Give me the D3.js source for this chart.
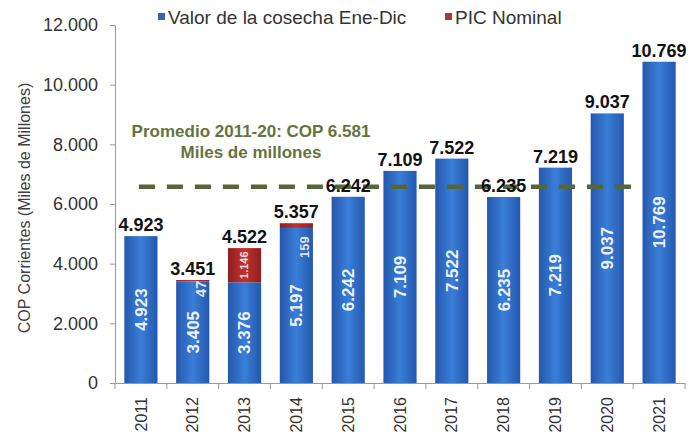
<!DOCTYPE html>
<html><head><meta charset="utf-8">
<script src="https://cdn.jsdelivr.net/npm/d3@7"></script>
<style>body{margin:0;background:#fff;} svg{display:block;font-family:Arial,"Liberation Sans",sans-serif;}</style>
</head><body><svg id="c" width="689" height="438"></svg>
<script>
const years = ["2011","2012","2013","2014","2015","2016","2017","2018","2019","2020","2021"];
const cosecha = [4923,3405,3376,5197,6242,7109,7522,6235,7219,9037,10769];
const pic = [0,47,1146,159,0,0,0,0,0,0,0];
const totalLabels = ["4.923","3.451","4.522","5.357","6.242","7.109","7.522","6.235","7.219","9.037","10.769"];
const cosechaLabels = ["4.923","3.405","3.376","5.197","6.242","7.109","7.522","6.235","7.219","9.037","10.769"];
const picLabels = ["","47","1.146","159","","","","","","",""];
const yTicks = [0,2000,4000,6000,8000,10000,12000];
const yTickLabels = ["0","2.000","4.000","6.000","8.000","10.000","12.000"];
const promedio = 6581;
const seriesNames = ["Valor de la cosecha Ene-Dic","PIC Nominal"];

const svg = d3.select("#c");
const x = d3.scaleBand().domain(years).range([115,685]).paddingInner(0.36).paddingOuter(0.18);
const y = d3.scaleLinear().domain([0,12000]).range([383,25]);
const bw = x.bandwidth();

const defs = svg.append("defs");
function grad(id, edge, mid){
  const g = defs.append("linearGradient").attr("id",id).attr("x1","0").attr("x2","1").attr("y1","0").attr("y2","0");
  g.append("stop").attr("offset","0").attr("stop-color",edge);
  g.append("stop").attr("offset","0.5").attr("stop-color",mid);
  g.append("stop").attr("offset","1").attr("stop-color",edge);
}
grad("gb","#2458ad","#3a7ed8");
grad("gr","#8e1f20","#c2322f");
const f = defs.append("filter").attr("id","sh").attr("x","-10%").attr("y","-50%").attr("width","120%").attr("height","200%");
f.append("feGaussianBlur").attr("stdDeviation","1.2");

// axes
const yAxis = d3.axisLeft(y).tickValues(yTicks).tickFormat((d,i)=>yTickLabels[i]).tickSize(5).tickPadding(12);
const gy = svg.append("g").attr("transform","translate(115,0)").call(yAxis);
gy.selectAll("text").attr("font-size",18).attr("fill","#333");
gy.selectAll("line,path").attr("stroke","#999");

const xAxis = d3.axisBottom(x).tickSize(0).tickFormat(d=>d);
const gx = svg.append("g").attr("transform","translate(0,383)").call(xAxis);
gx.select("path").attr("stroke","#999");
gx.selectAll("text").attr("font-size",16).attr("fill","#333")
  .attr("text-anchor","end").attr("dx","-14").attr("dy","0.35em").attr("y",0).attr("x",0)
  .attr("transform","rotate(-90)");
// x boundary ticks
const bounds = d3.range(years.length+1).map(i=>115 + i*((685-115)/years.length));
svg.append("g").selectAll("line").data(bounds).join("line")
  .attr("x1",d=>d).attr("x2",d=>d).attr("y1",383).attr("y2",389).attr("stroke","#999");

// bars
const data = years.map((yr,i)=>({yr,c:cosecha[i],p:pic[i],t:totalLabels[i],cl:cosechaLabels[i],pl:picLabels[i]}));
svg.append("g").selectAll("rect").data(data).join("rect")
  .attr("x",d=>x(d.yr)).attr("width",bw).attr("y",d=>y(d.c)).attr("height",d=>y(0)-y(d.c)).attr("fill","url(#gb)");
svg.append("g").selectAll("rect").data(data.filter(d=>d.p>0)).join("rect")
  .attr("x",d=>x(d.yr)).attr("width",bw).attr("y",d=>y(d.c+d.p)).attr("height",d=>y(d.c)-y(d.c+d.p)).attr("fill","url(#gr)");

// average line
const lx1 = x("2011")+bw/2-2, lx2 = x("2021")-1;
svg.append("line").attr("x1",lx1).attr("x2",lx2).attr("y1",y(promedio)+1.5).attr("y2",y(promedio)+1.5)
  .attr("stroke","#9aa58a").attr("stroke-width",5).attr("stroke-dasharray","16,12").attr("filter","url(#sh)").attr("opacity",0.8);
svg.append("line").attr("x1",lx1).attr("x2",lx2).attr("y1",y(promedio)).attr("y2",y(promedio))
  .attr("stroke","#55663a").attr("stroke-width",4.5).attr("stroke-dasharray","16,12");

// inside labels
svg.append("g").selectAll("text").data(data).join("text")
  .attr("transform",d=>`translate(${x(d.yr)+bw/2},${(y(d.c)+y(0))/2}) rotate(-90)`)
  .attr("text-anchor","middle").attr("dy","0.35em").attr("font-size",17).attr("font-weight","bold")
  .attr("fill","#fff").attr("fill-opacity",0.93).text(d=>d.cl);

// PIC labels
svg.append("g").selectAll("text").data(data.filter(d=>d.pl)).join("text")
  .attr("transform",d=>{
    const h = y(d.c)-y(d.c+d.p);
    if(h>20) return `translate(${x(d.yr)+bw/2},${(y(d.c)+y(d.c+d.p))/2}) rotate(-90)`;
    return `translate(${x(d.yr)+bw*0.75},${y(d.c+d.p)+(d.pl.length>2?24:9)}) rotate(-90)`;
  })
  .attr("text-anchor","middle").attr("dy","0.35em").attr("font-weight","bold")
  .attr("font-size",d=>d.pl.length>3?11:(d.pl.length>2?13:15))
  .attr("fill","#fff").attr("fill-opacity",0.85).text(d=>d.pl);

// total labels
svg.append("g").selectAll("text").data(data).join("text")
  .attr("x",d=>x(d.yr)+bw/2).attr("y",d=>y(d.c+d.p)-5)
  .attr("text-anchor","middle").attr("font-size",18).attr("font-weight","bold").attr("fill","#111")
  .text(d=>d.t);

// average annotation
svg.append("text").attr("x",251).attr("y",137).attr("text-anchor","middle").attr("font-size",17).attr("font-weight","bold")
  .attr("fill","#64743c").text("Promedio 2011-20: COP 6.581");
svg.append("text").attr("x",251).attr("y",158).attr("text-anchor","middle").attr("font-size",17).attr("font-weight","bold")
  .attr("fill","#64743c").text("Miles de millones");

// y label
svg.append("text").attr("transform","translate(30,208) rotate(-90)").attr("text-anchor","middle")
  .attr("font-size",16).attr("fill","#404040").text("COP Corrientes (Miles de Millones)");

// legend
const leg = svg.append("g");
const lg = [{n:seriesNames[0],c:"#3563b8",x:158},{n:seriesNames[1],c:"#a8393a",x:445}];
leg.selectAll("rect").data(lg).join("rect").attr("x",d=>d.x).attr("y",13).attr("width",7).attr("height",7).attr("fill",d=>d.c);
leg.selectAll("text").data(lg).join("text").attr("x",d=>d.x+10).attr("y",24).attr("font-size",19).attr("fill","#333").text(d=>d.n);
</script></body></html>
